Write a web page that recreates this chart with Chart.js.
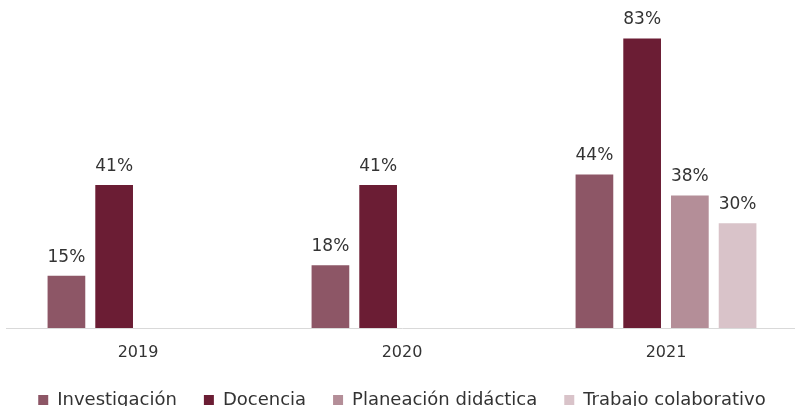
<!DOCTYPE html>
<html>
<head>
<meta charset="utf-8">
<script src="https://cdn.jsdelivr.net/npm/chart.js@4"></script>
<style>
  html, body { margin: 0; padding: 0; background: #fff; overflow: hidden; }
  #wrap { width: 798px; height: 406px; }
</style>
</head>
<body>
<div id="wrap"><canvas id="grafica"></canvas></div>
<script>
const years = ['2019', '2020', '2021'];
const investigacion = [15, 18, 44];
const docencia = [41, 41, 83];
const planeacion = [null, null, 38];
const trabajo = [null, null, 30];

const seriesNames = ['Investigación', 'Docencia', 'Planeación didáctica', 'Trabajo colaborativo'];
const colores = ['#8d5666', '#6b1d34', '#b48e98', '#d9c3c9'];

const FONT = "'DejaVu Sans', sans-serif";

// draw the value above each bar
const etiquetas = {
  id: 'etiquetas',
  afterDatasetsDraw(chart) {
    const ctx = chart.ctx;
    ctx.save();
    ctx.font = '17px ' + FONT;
    ctx.fillStyle = '#333333';
    ctx.textAlign = 'center';
    ctx.textBaseline = 'alphabetic';
    chart.data.datasets.forEach((ds, i) => {
      chart.getDatasetMeta(i).data.forEach((bar, j) => {
        if (ds.data[j] == null) return;
        ctx.fillText(ds.data[j] + '%', bar.x, bar.y - 14);
      });
    });
    ctx.restore();
  }
};

const ctx = document.getElementById('grafica').getContext('2d');
new Chart(ctx, {
  type: 'bar',
  data: {
    labels: years,
    datasets: [
      { label: seriesNames[0], data: investigacion, backgroundColor: colores[0] },
      { label: seriesNames[1], data: docencia, backgroundColor: colores[1] },
      { label: seriesNames[2], data: planeacion, backgroundColor: colores[2] },
      { label: seriesNames[3], data: trabajo, backgroundColor: colores[3] }
    ]
  },
  options: {
    responsive: true,
    maintainAspectRatio: false,
    animation: false,
    categoryPercentage: 0.723,
    barPercentage: 0.79,
    layout: { padding: { left: 6, right: 0, top: 14, bottom: 0 } },
    scales: {
      x: {
        grid: { display: false, drawTicks: false },
        border: { display: true, color: '#d9d9d9', width: 1 },
        ticks: { color: '#333333', font: { family: FONT, size: 16 }, padding: 15 },
        afterFit(scale) { scale.height = 36; }
      },
      y: {
        display: false,
        min: 0,
        max: 90
      }
    },
    plugins: {
      legend: {
        position: 'bottom',
        maxHeight: 42,
        labels: {
          color: '#333333',
          font: { family: FONT, size: 18 },
          boxWidth: 10,
          boxHeight: 10,
          padding: 27
        }
      },
      tooltip: { enabled: false }
    }
  },
  plugins: [etiquetas]
});
</script>
</body>
</html>
